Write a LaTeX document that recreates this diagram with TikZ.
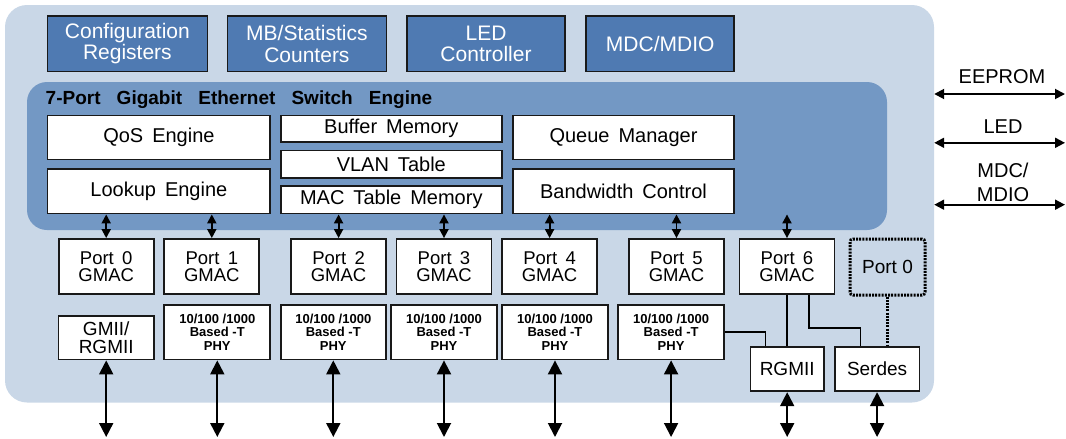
\documentclass[tikz,border=0pt]{standalone}
\usepackage{fontspec}
\setmainfont{Liberation Sans}
\usepackage{tikz}
\usetikzlibrary{arrows.meta,calc}
\definecolor{boardblue}{HTML}{C9D7E7}
\definecolor{engineblue}{HTML}{7398C4}
\definecolor{regblue}{HTML}{4F7AB2}
\tikzset{every picture/.append style={x=1pt,y=-1pt}}
\tikzset{block/.style={draw=black!90, line width=1.8pt, fill=white, inner sep=0pt, align=center, font={\fontsize{20}{21}\selectfont\spaceskip=0.45em\relax}}}
\tikzset{regblock/.style={block, fill=regblue, text=white, minimum height=55.5pt, font={\fontsize{21}{21.5}\selectfont}}}
\tikzset{gmac/.style={block, minimum width=95pt, minimum height=55pt, font={\fontsize{18.5}{17.5}\selectfont\spaceskip=0.45em\relax}}}
\tikzset{phy/.style={block, minimum width=106pt, minimum height=54.5pt, font={\fontsize{13}{13.5}\selectfont\bfseries}}}
\tikzset{sidelbl/.style={align=center, inner sep=0pt, font={\fontsize{20}{23.7}\selectfont}}}
\tikzset{wire/.style={line width=1.6pt}}
\tikzset{dotwire/.style={line width=3pt, dash pattern=on 2pt off 1.2pt, draw=black}}
\tikzset{biarrow/.style={line width=1.9pt, {Triangle[length=#1,width=#1]}-{Triangle[length=#1,width=#1]}}}
\tikzset{biarrow/.default=14pt}

\begin{document}
\begin{tikzpicture}
  \useasboundingbox (0,0) rectangle (1066,439);
  \node (board) at (469.5,203.75)[fill=boardblue, rounded corners=22pt, inner sep=0pt, minimum width=929pt, minimum height=397.5pt]{};

  % register blocks on top
  \node (cfg) at (127.4,43.75)[regblock, minimum width=160pt]{Configuration\\Registers};
  \node (stats) at (306.9,43.75)[regblock, minimum width=159pt]{MB/Statistics\\Counters};
  \node (ledctl) at (486,43.75)[regblock, minimum width=158.6pt]{LED\\Controller};
  \node (mdc) at (660.2,43.75)[regblock, minimum width=148pt]{MDC/MDIO};

  % switch engine
  \node (engine) at (457,156)[fill=engineblue, rounded corners=20pt, inner sep=0pt, minimum width=860pt, minimum height=148pt]{};
  \node (title) at (45.5,104)[anchor=base west, inner sep=0pt, font={\fontsize{19}{19}\selectfont\bfseries\spaceskip=0.85em\relax}]{7-Port Gigabit Ethernet Switch Engine};
  \node (qos) at (158.9,137.4)[block, minimum width=222.8pt, minimum height=44pt]{QoS Engine};
  \node (lookup) at (158.9,191.1)[block, minimum width=222.8pt, minimum height=44.8pt]{Lookup Engine};
  \node (buf) at (391.3,128.8)[block, minimum width=221.4pt, minimum height=26.8pt]{Buffer Memory};
  \node (vlan) at (391.3,164.25)[block, minimum width=221.4pt, minimum height=27.5pt]{VLAN Table};
  \node (mactab) at (391.3,199.75)[block, minimum width=221.4pt, minimum height=27.5pt]{MAC Table Memory};
  \node (queue) at (623.5,137.4)[block, minimum width=221pt, minimum height=44pt]{Queue Manager};
  \node (bw) at (623.5,191.1)[block, minimum width=221pt, minimum height=44.8pt]{Bandwidth Control};

  % GMAC row
  \node (p0) at (106.2,266.5)[gmac]{Port 0\\GMAC};
  \node (p1) at (211.8,266.5)[gmac]{Port 1\\GMAC};
  \node (p2) at (338.6,266.5)[gmac]{Port 2\\GMAC};
  \node (p3) at (444,266.5)[gmac]{Port 3\\GMAC};
  \node (p4) at (549.6,266.5)[gmac]{Port 4\\GMAC};
  \node (p5) at (676.5,266.5)[gmac]{Port 5\\GMAC};
  \node (p6) at (787,266.5)[gmac]{Port 6\\GMAC};
  \node (p0s) at (887.5,267)[block, fill=none, dotwire, rounded corners=3pt, minimum width=75pt, minimum height=56pt, font={\fontsize{19}{19}\selectfont}]{Port 0};

  % PHY row
  \node (gmii) at (106.2,337.6)[block, minimum width=95.4pt, minimum height=43.8pt, font={\fontsize{19}{18}\selectfont}]{GMII/\\RGMII};
  \node (phy1) at (217.3,332.25)[phy]{10/100 /1000\\Based -T\\PHY};
  \node (phy2) at (333.3,332.25)[phy, minimum width=105.4pt]{10/100 /1000\\Based -T\\PHY};
  \node (phy3) at (444,332.25)[phy, minimum width=105.7pt]{10/100 /1000\\Based -T\\PHY};
  \node (phy4) at (555,332.25)[phy]{10/100 /1000\\Based -T\\PHY};
  \node (phy5) at (671.1,332.25)[phy, minimum width=105.8pt]{10/100 /1000\\Based -T\\PHY};
  \node (rgmii) at (787.2,369.15)[block, minimum width=73.5pt, minimum height=44.3pt, font={\fontsize{19}{19}\selectfont}]{RGMII};
  \node (serdes) at (877.1,369.15)[block, minimum width=84.6pt, minimum height=44.3pt, font={\fontsize{19}{19}\selectfont}]{Serdes};

  % engine <-> GMAC
  \foreach \p/\src in {p0/lookup, p1/lookup, p2/mactab, p3/mactab, p4/bw, p5/bw, p6/bw}
    \draw[biarrow=9pt] (\src.south -| \p.north) -- (\p.north);

  % port 5 / port 6 muxing
  \draw[wire] (phy5.east) -| ($(rgmii.north west)+(16,0)$);
  \draw[wire] (p6.south) -- (p6.south |- rgmii.north);
  \draw[wire] ($(p6.south east)+(-26.4,0)$) -- ++(0,33) -| ($(serdes.north west)+(26.4,0)$);
  \draw[dotwire] (p0s.south) -- (p0s.south |- serdes.north);

  % external pins
  \coordinate (floor) at (0,437);
  \foreach \n in {gmii,phy1,phy2,phy3,phy4,phy5,rgmii,serdes}
    \draw[biarrow] (\n.south) -- (\n.south |- floor);

  \coordinate (eeR) at (1065,94);
  \coordinate (ledR) at (1065,142.8);
  \coordinate (mdioR) at (1065,204.7);
  \draw[biarrow=10pt] (board.east |- eeR) -- (eeR);
  \draw[biarrow=10pt] (board.east |- ledR) -- (ledR);
  \draw[biarrow=10pt] (board.east |- mdioR) -- (mdioR);
  \node (eelbl) at (1002,83.6)[sidelbl, anchor=base]{EEPROM};
  \node (ledlbl) at (1003,133)[sidelbl, anchor=base]{LED};
  \node (mdiolbl) at (1003,182.3)[sidelbl]{MDC/\\MDIO};
\end{tikzpicture}
\end{document}
